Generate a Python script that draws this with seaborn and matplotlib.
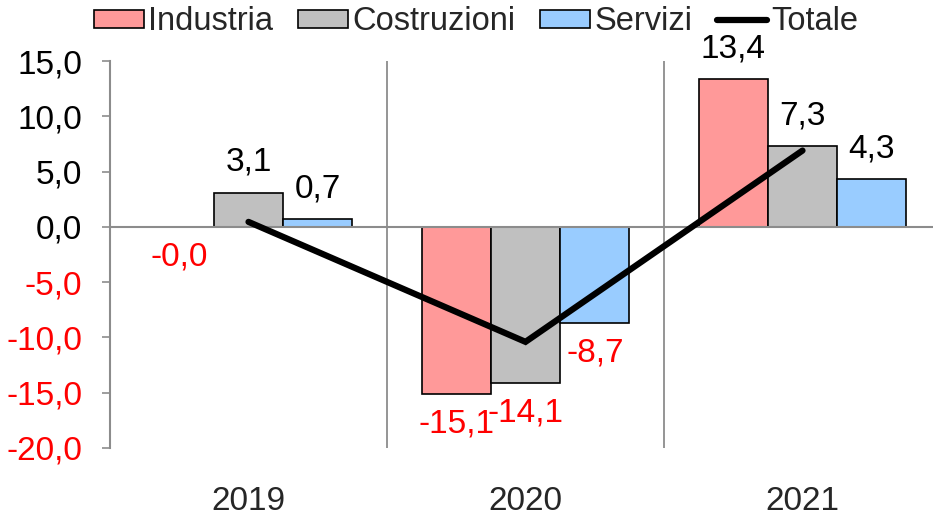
import pandas as pd
import seaborn as sns
import matplotlib.pyplot as plt
from matplotlib.patches import Patch
from matplotlib.lines import Line2D

# values
anni = ['2019', '2020', '2021']
settori = ['Industria', 'Costruzioni', 'Servizi']
industria = [-0.04, -15.1, 13.4]
costruzioni = [3.1, -14.1, 7.3]
servizi = [0.7, -8.7, 4.3]
totale = [0.45, -10.4, 6.9]

colori = {'Industria': '#FF9999', 'Costruzioni': '#C0C0C0', 'Servizi': '#99CCFF'}
grigio = '#8C8C8C'

# long form table for seaborn
df = pd.DataFrame({
    'anno': anni * 3,
    'settore': [s for s in settori for _ in anni],
    'valore': industria + costruzioni + servizi,
})

sns.set_theme(style='white')
plt.rcParams['font.family'] = ['Liberation Sans', 'DejaVu Sans']
fs = 24

fig = plt.figure(figsize=(9.33, 5.22), dpi=100)
ax = fig.add_axes([110 / 933, 74 / 522, 831 / 933, 387 / 522])

sns.barplot(data=df, x='anno', y='valore', hue='settore', hue_order=settori,
            palette=colori, width=0.75, edgecolor='black', linewidth=1.2,
            saturation=1, legend=False, ax=ax)

# data labels, red for negatives
for cont in ax.containers:
    labels = [f"{v:.1f}".replace('.', ',') for v in cont.datavalues]
    txts = ax.bar_label(cont, labels=labels, padding=10.5, fontsize=fs)
    for t, v in zip(txts, cont.datavalues):
        t.set_color('red' if v < 0 else 'black')

# totale line
sns.lineplot(x=[0, 1, 2], y=totale, color='black', linewidth=4.5, ax=ax,
             solid_capstyle='round', solid_joinstyle='miter')

ax.set_xlim(-0.5, 2.5)
ax.set_ylim(-20, 15)
ax.set_yticks(range(-20, 16, 5))
ax.set_yticklabels([f"{v:.1f}".replace('.', ',') for v in range(-20, 16, 5)])
for t, v in zip(ax.get_yticklabels(), range(-20, 16, 5)):
    t.set_color('red' if v < 0 else 'black')
ax.set_xlabel('')
ax.set_ylabel('')

ax.axhline(0, color=grigio, linewidth=1.5, zorder=1)
for xv in [0.5, 1.5]:
    ax.axvline(xv, color=grigio, linewidth=1.3, zorder=0)

for s in ['top', 'right', 'bottom']:
    ax.spines[s].set_visible(False)
ax.spines['left'].set_color(grigio)
ax.spines['left'].set_linewidth(1.5)

ax.tick_params(axis='y', left=True, length=6, width=1.2, color=grigio,
               labelsize=fs, pad=14)
ax.tick_params(axis='x', length=0, labelsize=fs, pad=27)

handles = [Patch(facecolor=colori[s], edgecolor='black', linewidth=1.2) for s in settori]
handles.append(Line2D([0], [0], color='black', linewidth=4.5))
fig.legend(handles, settori + ['Totale'], loc='center', bbox_to_anchor=(0.51, 1 - 22 / 522),
           ncol=4, frameon=False, fontsize=23.5, handlelength=1.55, handleheight=0.45,
           handletextpad=0.12, columnspacing=0.75, borderpad=0)

fig.savefig('out.png', dpi=100)
